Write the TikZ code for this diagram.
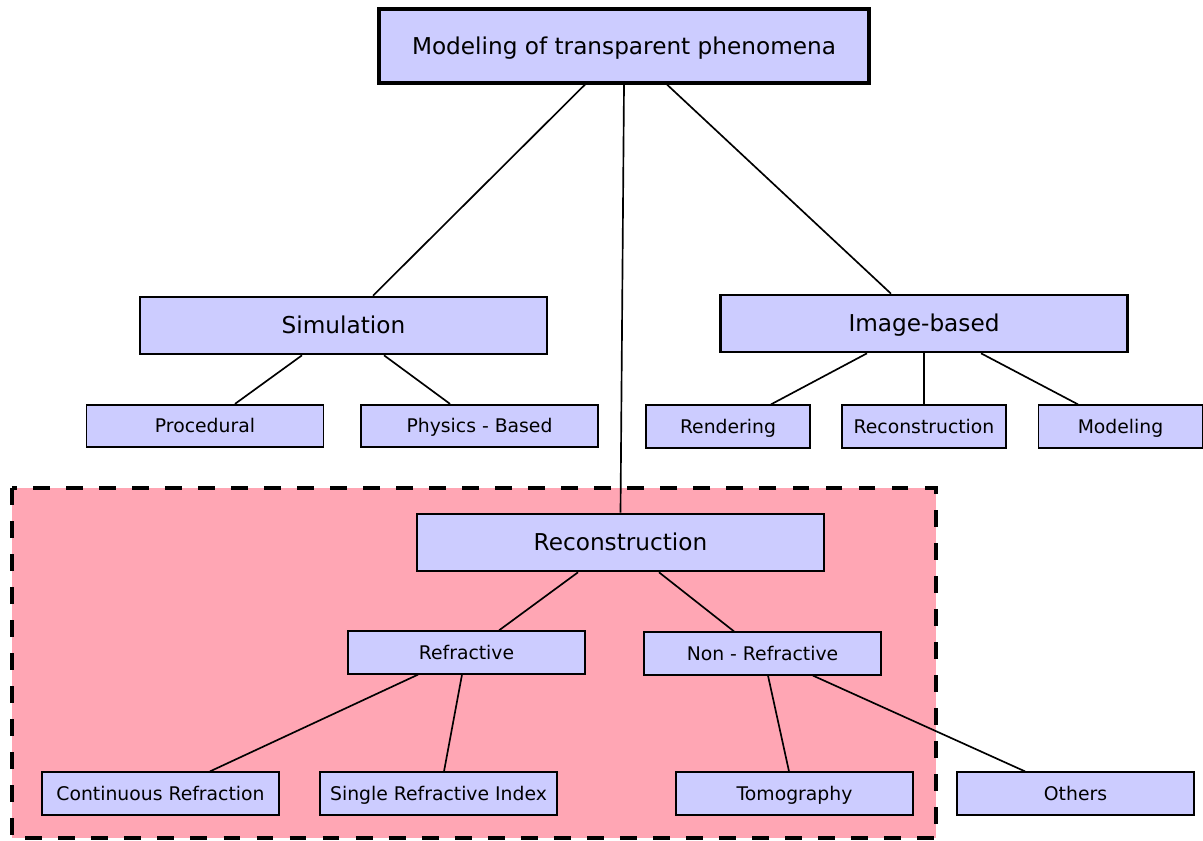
\documentclass[tikz,border=0pt]{standalone}
\usepackage{fontspec}
\setmainfont{DejaVu Sans}
\usepackage{xcolor}
\usetikzlibrary{calc}
\definecolor{boxblue}{RGB}{204,204,255}
\definecolor{regionpink}{RGB}{255,166,180}

\tikzset{
bigbox/.style={draw, fill=boxblue, line width=1.5pt, minimum height=1.14cm, minimum width=8.14cm, inner sep=0pt, text height=9.6pt, text depth=0pt, font=\fontsize{13.2}{15}\selectfont},
smallbox/.style={draw, fill=boxblue, line width=1pt, minimum height=0.85cm, minimum width=4.74cm, inner sep=0pt, text height=7.8pt, text depth=0pt, font=\fontsize{10.7}{13}\selectfont},
link/.style={line width=0.95pt}
}

\begin{document}
\begin{tikzpicture}[x=0.02cm, y=-0.02cm]
\useasboundingbox (0,0) rectangle (1203,841);

% reconstruction area
\draw[fill=regionpink, line width=2.4pt, dash pattern=on 9.6pt off 9.2pt] (12,488) rectangle (936,838);

\node[bigbox, line width=1.8pt, minimum width=9.8cm, minimum height=1.48cm] (model) at (624,46) {Modeling of transparent phenomena};

\node[bigbox] (sim) at (343.5,325.5) {Simulation};
\node[bigbox] (img) at (924,323.5) {Image-based};
\node[bigbox] (rec) at (620.5,542.5) {Reconstruction};

\node[smallbox] (proc) at (205,426) {Procedural};
\node[smallbox] (phys) at (479.5,426) {Physics - Based};
\node[smallbox, minimum width=3.28cm] (rend) at (728,426.5) {Rendering};
\node[smallbox, minimum width=3.28cm] (irec) at (924,426.5) {Reconstruction};
\node[smallbox, minimum width=3.28cm] (imod) at (1120.5,426.5) {Modeling};

\node[smallbox] (refr) at (466.5,652.5) {Refractive};
\node[smallbox] (nonrefr) at (762.5,653.5) {Non - Refractive};
\node[smallbox] (cont) at (160.5,793.5) {Continuous Refraction};
\node[smallbox] (single) at (438.5,793.5) {Single Refractive Index};
\node[smallbox] (tomo) at (794.5,793.5) {Tomography};
\node[smallbox] (others) at (1075.5,793.5) {Others};

\begin{scope}[link]
\draw ($(model.south)+(-39,0)$) -- ($(sim.north)+(29.5,0)$);
\draw (model.south) -- (rec.north);
\draw ($(model.south)+(43,0)$) -- ($(img.north)+(-33,0)$);

\draw ($(sim.south)+(-41.5,0)$) -- ($(proc.north)+(30,0)$);
\draw ($(sim.south)+(40.5,0)$) -- ($(phys.north)+(-29.5,0)$);

\draw ($(img.south)+(-57,0)$) -- ($(rend.north)+(43,0)$);
\draw (img.south) -- (irec.north);
\draw ($(img.south)+(57,0)$) -- ($(imod.north)+(-42.5,0)$);

\draw ($(rec.south)+(-42.5,0)$) -- ($(refr.north)+(32.5,0)$);
\draw ($(rec.south)+(38.5,0)$) -- ($(nonrefr.north)+(-28.5,0)$);

\draw ($(refr.south)+(-48.5,0)$) -- ($(cont.north)+(49.5,0)$);
\draw ($(refr.south)+(-4.5,0)$) -- ($(single.north)+(5.5,0)$);
\draw ($(nonrefr.south)+(5.5,0)$) -- ($(tomo.north)+(-5.5,0)$);
\draw ($(nonrefr.south)+(50.5,0)$) -- ($(others.north)+(-50.5,0)$);
\end{scope}

\end{tikzpicture}
\end{document}
